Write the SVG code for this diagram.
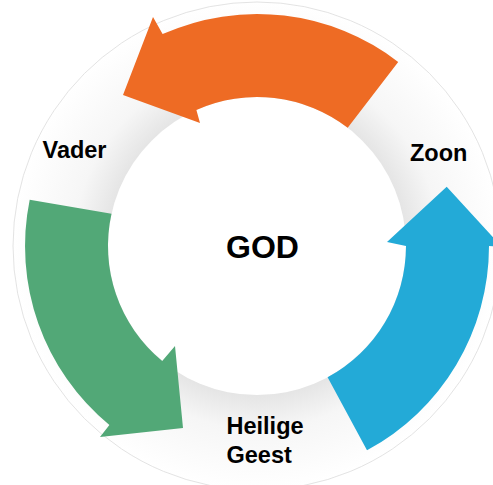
<svg xmlns="http://www.w3.org/2000/svg" width="493" height="485" viewBox="0 0 493 485">
  <defs>
    <radialGradient id="ringGrad" gradientUnits="userSpaceOnUse" cx="257" cy="246" r="244">
      <stop offset="0" stop-color="#e5e5e5"/>
      <stop offset="0.61" stop-color="#e5e5e5"/>
      <stop offset="0.75" stop-color="#f6f6f6"/>
      <stop offset="1" stop-color="#ffffff"/>
    </radialGradient>
    <style>
      .lbl { font-family: "Liberation Sans", Arial, Helvetica, sans-serif; font-weight: bold; font-size: 23.5px; fill: #000000; }
      .god { font-family: "Liberation Sans", Arial, Helvetica, sans-serif; font-weight: bold; font-size: 32px; fill: #000000; }
      .arrow { stroke: none; }
    </style>
  </defs>
  <rect width="493" height="485" fill="#ffffff"/>
  <g id="ring">
    <circle cx="257" cy="246" r="244" fill="url(#ringGrad)" stroke="#dcdcdc" stroke-width="0.8"/>
    <circle cx="257" cy="246" r="149" fill="#ffffff"/>
  </g>
  <g id="connectors">
    <path id="arrow-orange" class="arrow" fill="#EE6B24" d="M398.2,61.9 A232,232 0 0 0 162.6,34.1 L153,17 L123,95 L200,123 L196.4,109.9 A149,149 0 0 1 347.7,127.8 Z"/>
    <path id="arrow-blue" class="arrow" fill="#23AAD7" d="M327.6,377.2 A149,149 0 0 0 406,246 L387,242 L446.7,186.7 L502,247 L489,246 A232,232 0 0 1 367,450.3 Z"/>
    <path id="arrow-green" class="arrow" fill="#52A877" d="M29.7,199.7 A232,232 0 0 0 109.4,425 L100,437 L183,428 L175,346 L162.2,361 A149,149 0 0 1 111.5,213.8 Z"/>
  </g>
  <g id="node-god">
    <text class="god" x="262.5" y="257.5" text-anchor="middle">GOD</text>
  </g>
  <g id="node-vader">
    <text class="lbl" x="42.5" y="158">Vader</text>
  </g>
  <g id="node-zoon">
    <text class="lbl" x="410" y="160.5">Zoon</text>
  </g>
  <g id="node-heilige-geest">
    <text class="lbl" x="226.5" y="434.3">Heilige</text>
    <text class="lbl" x="226.5" y="463.3">Geest</text>
  </g>
</svg>
